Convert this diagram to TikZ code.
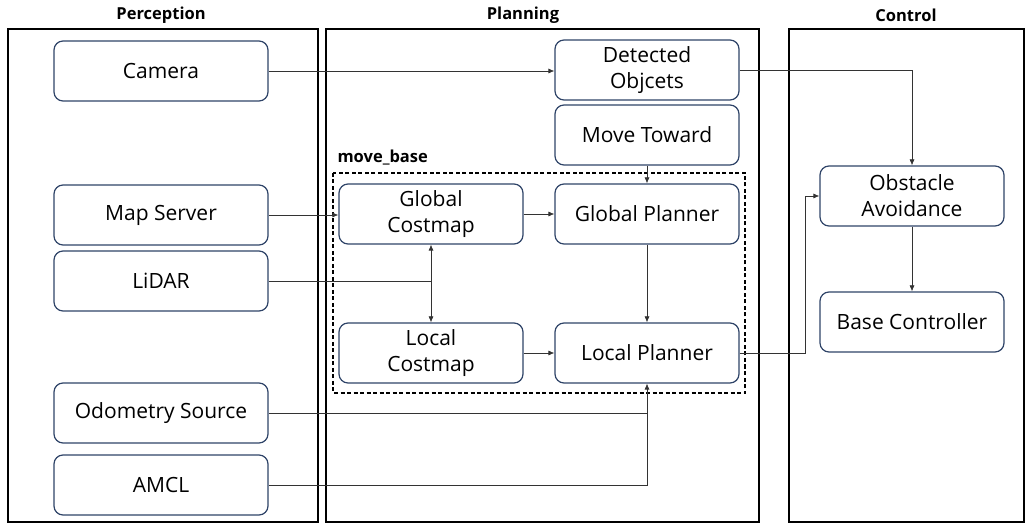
\documentclass[tikz,border=0pt]{standalone}
\usepackage{fontspec}
\setmainfont{Open Sans}
\usetikzlibrary{arrows.meta}
\definecolor{boxline}{HTML}{2F4468}
\definecolor{wireline}{HTML}{333333}
\tikzset{
  panel/.style={draw=black, line width=1.2pt},
  blk/.style={draw=boxline, line width=1.2pt, rounded corners=9pt, fill=white,
    minimum width=184pt, minimum height=60pt, align=center,
    font=\fontsize{21}{26}\selectfont, inner sep=1pt},
  title/.style={font=\bfseries\fontsize{16.5}{18}\selectfont},
  wire/.style={draw=wireline, line width=0.7pt},
  arr/.style={wire, -{Latex[length=6pt,width=5pt]}},
  darr/.style={wire, {Latex[length=6pt,width=5pt]}-{Latex[length=6pt,width=5pt]}},
}
\begin{document}
\begin{tikzpicture}[x=1pt, y=-1pt]
\useasboundingbox (0,0) rectangle (1031,526);

% columns
\draw[panel] (8,29) rectangle (318,522);
\draw[panel] (326,29) rectangle (759,522);
\draw[panel] (789,29) rectangle (1024,522);
\node[title] (tperc) at (161,15) {Perception};
\node[title] (tplan) at (523,15) {Planning};
\node[title] (tctrl) at (906,15) {Control};

% move_base group
\draw[black, line width=1.2pt, dash pattern=on 4pt off 2.5pt] (333,173) rectangle (745,393);
\node[title, anchor=west] (mb) at (334,158) {move\_base};

% perception blocks
\node[blk, minimum width=214pt] (cam) at (161,71) {Camera};
\node[blk, minimum width=214pt] (map) at (161,215) {Map Server};
\node[blk, minimum width=214pt] (lidar) at (161,281) {LiDAR};
\node[blk, minimum width=214pt] (odom) at (161,413) {Odometry Source};
\node[blk, minimum width=214pt] (amcl) at (161,485) {AMCL};

% planning blocks
\node[blk] (det) at (647,70) {Detected\\Objcets};
\node[blk] (move) at (647,135) {Move Toward};
\node[blk] (gcost) at (431,214) {Global\\Costmap};
\node[blk] (gplan) at (647,214) {Global Planner};
\node[blk] (lcost) at (431,353) {Local\\Costmap};
\node[blk] (lplan) at (647,353) {Local Planner};

% control blocks
\node[blk] (obst) at (912,196) {Obstacle\\Avoidance};
\node[blk] (base) at (912,322) {Base Controller};

% connectors
\draw[arr] (cam.east) -- (det.west |- cam.east);
\draw[arr] (det.east) -| (obst.north);
\draw[arr] (map.east) -- (gcost.west |- map.east);
\draw[arr] (gcost.east) -- (gplan.west);
\draw[arr] (move.south) -- (gplan.north);
\draw[arr] (gplan.south) -- (lplan.north);
\draw[arr] (lcost.east) -- (lplan.west);
\draw[darr] (gcost.south) -- (lcost.north);
\coordinate (ljoin) at (gcost.south |- lidar.east);
\draw[wire] (lidar.east) -- (ljoin);
\coordinate (ojoin) at (lplan.south |- odom.east);
\draw[wire] (odom.east) -- (ojoin);
\draw[arr] (amcl.east) -| (lplan.south);
\coordinate (cbend) at (805,353);
\draw[arr] (lplan.east) -- (cbend) |- (obst.west);
\draw[arr] (obst.south) -- (base.north);
\end{tikzpicture}
\end{document}
